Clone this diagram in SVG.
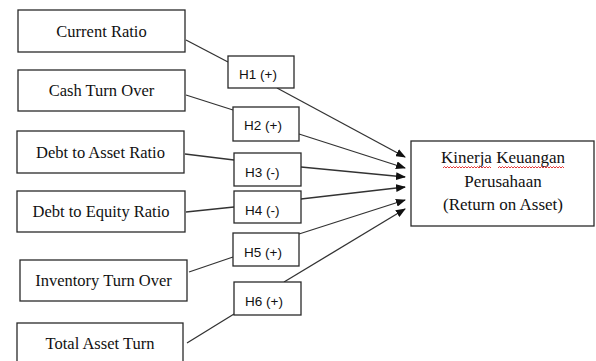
<svg xmlns="http://www.w3.org/2000/svg" width="596" height="361" viewBox="0 0 596 361">
<style>
.box{fill:#fff;stroke:#2a2a2a;stroke-width:1.3}
.t{font-family:"Liberation Serif","Times New Roman",serif;font-size:16.5px;fill:#111;text-anchor:middle}
.tr{font-family:"Liberation Serif","Times New Roman",serif;font-size:17px;fill:#111;text-anchor:middle}
.h{font-family:"Liberation Sans",Arial,sans-serif;font-size:13.5px;fill:#111}
.ln{stroke:#333;stroke-width:1.3;fill:none}
.arr{stroke:#333;stroke-width:1.3;fill:none;marker-end:url(#ah)}
</style>
<defs>
<marker id="ah" markerWidth="10" markerHeight="8" refX="9" refY="4" orient="auto" markerUnits="userSpaceOnUse">
<path d="M0,0 L10,4 L0,8 Z" fill="#111"/>
</marker>
</defs>
<rect width="596" height="361" fill="#fff"/>
<g id="connectors">
<line class="ln" x1="186" y1="40" x2="228" y2="62"/>
<line class="ln" x1="186" y1="95" x2="233" y2="110"/>
<line class="ln" x1="185" y1="154" x2="234" y2="160"/>
<line class="ln" x1="186" y1="212" x2="234" y2="207"/>
<line class="ln" x1="189" y1="272" x2="233" y2="257"/>
<line class="ln" x1="187" y1="343" x2="234" y2="314"/>
<line class="arr" x1="277" y1="88" x2="405" y2="157"/>
<line class="arr" x1="299" y1="134" x2="405" y2="168"/>
<line class="arr" x1="301" y1="167" x2="405" y2="177"/>
<line class="arr" x1="301" y1="199" x2="405" y2="187"/>
<line class="arr" x1="299" y1="234" x2="405" y2="200"/>
<line class="arr" x1="284" y1="282" x2="405" y2="209"/>
</g>
<g id="current-ratio"><rect class="box" x="18" y="10" width="167" height="42"/><text class="t" x="101.5" y="36.5">Current Ratio</text></g>
<g id="cash-turn-over"><rect class="box" x="18" y="70" width="167" height="41"/><text class="t" x="101.5" y="95.5">Cash Turn Over</text></g>
<g id="debt-to-asset"><rect class="box" x="17" y="131" width="167" height="42"/><text class="t" x="100.5" y="157.5">Debt to Asset Ratio</text></g>
<g id="debt-to-equity"><rect class="box" x="17" y="191" width="168" height="41"/><text class="t" x="101" y="216.5">Debt to Equity Ratio</text></g>
<g id="inventory-turn-over"><rect class="box" x="20" y="260" width="167" height="41"/><text class="t" x="103.5" y="285.5">Inventory Turn Over</text></g>
<g id="total-asset-turn"><rect class="box" x="17" y="323" width="166" height="46"/><text class="t" x="100" y="348.5">Total Asset Turn</text></g>
<g id="h1"><rect class="box" x="228" y="56" width="66" height="32"/><text class="h" x="239" y="78.5">H1 (+)</text></g>
<g id="h2"><rect class="box" x="233" y="107" width="66" height="34"/><text class="h" x="244" y="130">H2 (+)</text></g>
<g id="h3"><rect class="box" x="234" y="153" width="67" height="33"/><text class="h" x="245" y="177">H3 (-)</text></g>
<g id="h4"><rect class="box" x="234" y="191" width="67" height="32"/><text class="h" x="245" y="215">H4 (-)</text></g>
<g id="h5"><rect class="box" x="233" y="233" width="66" height="33"/><text class="h" x="244" y="257">H5 (+)</text></g>
<g id="h6"><rect class="box" x="234" y="282" width="67" height="33"/><text class="h" x="245" y="306">H6 (+)</text></g>
<g id="kinerja">
<rect class="box" x="411" y="141" width="183" height="85"/>
<text class="tr" x="503" y="163">Kinerja Keuangan</text>
<text class="tr" x="503" y="187">Perusahaan</text>
<text class="tr" x="503" y="210">(Return on Asset)</text>
<path d="M443,168 l1.5,-1.5 l1.5,1.5 l1.5,-1.5 l1.5,1.5 l1.5,-1.5 l1.5,1.5 l1.5,-1.5 l1.5,1.5 l1.5,-1.5 l1.5,1.5 l1.5,-1.5 l1.5,1.5 l1.5,-1.5 l1.5,1.5 l1.5,-1.5 l1.5,1.5 l1.5,-1.5 l1.5,1.5 l1.5,-1.5 l1.5,1.5 l1.5,-1.5 l1.5,1.5 l1.5,-1.5 l1.5,1.5 l1.5,-1.5 l1.5,1.5 l1.5,-1.5 l1.5,1.5 l1.5,-1.5 l1.5,1.5 l1.5,-1.5 l1.5,1.5" stroke="#e02020" stroke-width="0.9" fill="none"/>
<path d="M498,168 l1.5,-1.5 l1.5,1.5 l1.5,-1.5 l1.5,1.5 l1.5,-1.5 l1.5,1.5 l1.5,-1.5 l1.5,1.5 l1.5,-1.5 l1.5,1.5 l1.5,-1.5 l1.5,1.5 l1.5,-1.5 l1.5,1.5 l1.5,-1.5 l1.5,1.5 l1.5,-1.5 l1.5,1.5 l1.5,-1.5 l1.5,1.5 l1.5,-1.5 l1.5,1.5 l1.5,-1.5 l1.5,1.5 l1.5,-1.5 l1.5,1.5 l1.5,-1.5 l1.5,1.5 l1.5,-1.5 l1.5,1.5 l1.5,-1.5 l1.5,1.5 l1.5,-1.5 l1.5,1.5 l1.5,-1.5 l1.5,1.5 l1.5,-1.5 l1.5,1.5 l1.5,-1.5 l1.5,1.5 l1.5,-1.5 l1.5,1.5 l1.5,-1.5 l1.5,1.5" stroke="#e02020" stroke-width="0.9" fill="none"/>
</g>
</svg>
